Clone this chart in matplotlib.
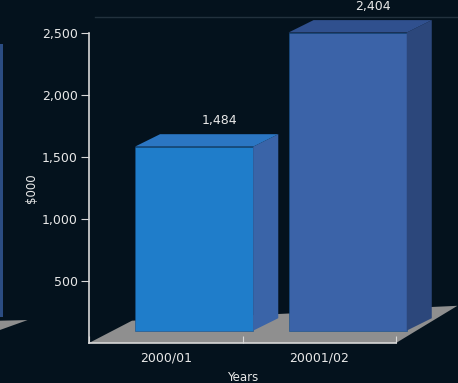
import matplotlib
matplotlib.use("Agg")
import matplotlib.pyplot as plt
from matplotlib.patches import Polygon, Rectangle

# data
years = ["2000/01", "20001/02"]
values = [1484, 2404]
yticks = [500, 1000, 1500, 2000, 2500]

bg = "#04121d"
txt = "#e8e8e8"
front_cols = ["#1f7dca", "#3b63a8"]
side_cols = ["#3a64a8", "#2c477b"]
top_cols = ["#2b76c3", "#30508e"]
floor_col = "#8f8f8f"

fig = plt.figure(figsize=(4.58, 3.83), dpi=100, facecolor=bg)
ax = fig.add_axes([89 / 458, 40 / 383, 307 / 458, 310 / 383])
ax.set_facecolor(bg)
ax.set_xlim(0, 2)
ax.set_ylim(0, 2500)

# depth of the fake 3d
dx, dy = 0.163, 100
base = 100
w = 0.77
shift = 0.30

# floor
floor = Polygon([(0, 0), (2, 0), (2.40, 300), (0.28, 180)], closed=True,
                facecolor=floor_col, edgecolor="none", clip_on=False, zorder=1)
ax.add_patch(floor)

# bars
for i, v in enumerate(values):
    x0 = i + shift
    top = base + v
    ax.add_patch(Rectangle((x0, base), w, v, facecolor=front_cols[i],
                           edgecolor="#16508a", lw=0.4, clip_on=False, zorder=3))
    ax.add_patch(Polygon([(x0 + w, base), (x0 + w + dx, base + dy),
                          (x0 + w + dx, top + dy), (x0 + w, top)],
                         facecolor=side_cols[i], edgecolor="none", clip_on=False, zorder=3))
    ax.add_patch(Polygon([(x0, top), (x0 + dx, top + dy),
                          (x0 + w + dx, top + dy), (x0 + w, top)],
                         facecolor=top_cols[i], edgecolor="none", clip_on=False, zorder=3))
    ax.annotate(f"{v:,}", (x0 + w / 2 + dx, top + dy), xytext=(0, 5),
                textcoords="offset points", ha="center", va="bottom",
                color=txt, fontsize=9, annotation_clip=False)

# cut off bar of a neighbouring chart on the left
ax.add_patch(Rectangle((-0.58, 210), 0.02, 2200, facecolor="#2b4c82",
                       edgecolor="none", clip_on=False))
ax.add_patch(Polygon([(-0.58, 105), (-0.40, 185), (-0.58, 180)], facecolor=floor_col,
                     edgecolor="none", clip_on=False))

# faint line at the top
ax.plot([0.04, 2.41], [2630, 2630], color="#22313d", lw=1, clip_on=False)

# axes
for s in ["top", "right"]:
    ax.spines[s].set_visible(False)
ax.spines["left"].set_color("#d8d8d8")
ax.spines["bottom"].set_color("#d8d8d8")
ax.spines["left"].set_linewidth(1.2)
ax.spines["bottom"].set_linewidth(1.2)
ax.spines["bottom"].set_zorder(4)

ax.set_yticks(yticks)
ax.set_yticklabels([f"{t:,}" for t in yticks])
ax.tick_params(axis="y", direction="out", length=6, color="#d8d8d8",
               labelcolor=txt, labelsize=9, pad=2)
ax.set_xticks([0, 1, 2])
ax.set_xticks([0.5, 1.5], minor=True)
ax.set_xticklabels(["", "", ""])
ax.set_xticklabels(years, minor=True)
ax.tick_params(axis="x", which="major", direction="in", length=5, color="#d8d8d8")
ax.tick_params(axis="x", which="minor", length=0, labelcolor=txt, labelsize=9, pad=6)

ax.set_ylabel("$000", color=txt, fontsize=8.5, labelpad=3)
ax.set_xlabel("Years", color=txt, fontsize=8.5, labelpad=5)

fig.savefig("out.png", dpi=100, facecolor=bg)
